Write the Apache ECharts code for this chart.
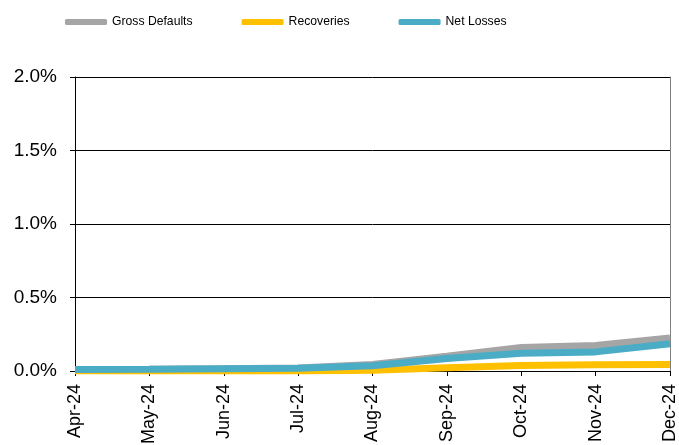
<!DOCTYPE html>
<html>
<head>
<meta charset="utf-8">
<script src="https://cdn.jsdelivr.net/npm/echarts@6/dist/echarts.min.js"></script>
<style>
  html, body { margin: 0; padding: 0; background: #fff; }
  #chart { width: 679px; height: 445px; }
</style>
</head>
<body>
<div id="chart"></div>
<script>
const months = ["Apr-24", "May-24", "Jun-24", "Jul-24", "Aug-24", "Sep-24", "Oct-24", "Nov-24", "Dec-24"];
const grossDefaults = [0.01, 0.012, 0.015, 0.02, 0.045, 0.10, 0.16, 0.173, 0.225];
const recoveries = [0, 0, 0, 0, 0.005, 0.022, 0.038, 0.043, 0.045];
const netLosses = [0.01, 0.012, 0.015, 0.018, 0.035, 0.085, 0.12, 0.13, 0.185];
const yTicks = [0, 0.5, 1.0, 1.5, 2.0];

const font = "'Liberation Sans', Arial, sans-serif";
const palette = ["#A5A5A5", "#FFC000", "#4BACC6"];

function mkLine(name, data) {
  return {
    name,
    type: "line",
    data,
    showSymbol: false,
    symbol: "none",
    lineStyle: { width: 7 },
    emphasis: { disabled: true },
  };
}

const chart = echarts.init(document.getElementById("chart"), null, { renderer: "canvas" });
chart.setOption({
  animation: false,
  color: palette,
  textStyle: { fontFamily: font },
  legend: {
    left: 65,
    top: 16,
    padding: 0,
    icon: "roundRect",
    itemWidth: 42,
    itemHeight: 6,
    itemGap: 49,
    textStyle: { fontFamily: font, fontSize: 12.2, color: "#000" },
    data: ["Gross Defaults", "Recoveries", "Net Losses"],
  },
  grid: { left: 75, right: 9, top: 77, bottom: 74, containLabel: false, outerBoundsMode: "none" },
  xAxis: {
    type: "category",
    boundaryGap: false,
    data: months,
    axisLine: { lineStyle: { color: "#000", width: 1 } },
    axisTick: { show: true, length: 5, alignWithLabel: true, lineStyle: { color: "#000" } },
    axisLabel: { rotate: 90, color: "#000", fontSize: 18, fontFamily: font, margin: 13, interval: 0 },
    splitLine: { show: false },
  },
  yAxis: [
    {
      type: "value",
      min: yTicks[0],
      max: yTicks[yTicks.length - 1],
      interval: 0.5,
      axisLine: { show: true, lineStyle: { color: "#000", width: 1 } },
      axisTick: { show: true, length: 5, lineStyle: { color: "#000" } },
      axisLabel: { color: "#000", fontSize: 19, fontFamily: font, margin: 18, formatter: (v) => v.toFixed(1) + "%" },
      splitLine: { show: true, lineStyle: { color: "#000", width: 1 } },
    },
    {
      type: "value",
      position: "right",
      min: 0,
      max: 2,
      interval: 0.5,
      axisLine: { show: true, lineStyle: { color: "#808080", width: 1 } },
      axisTick: { show: false },
      axisLabel: { show: false },
      splitLine: { show: false },
    },
  ],
  series: [
    mkLine("Gross Defaults", grossDefaults),
    mkLine("Recoveries", recoveries),
    mkLine("Net Losses", netLosses),
  ],
});
</script>
</body>
</html>
